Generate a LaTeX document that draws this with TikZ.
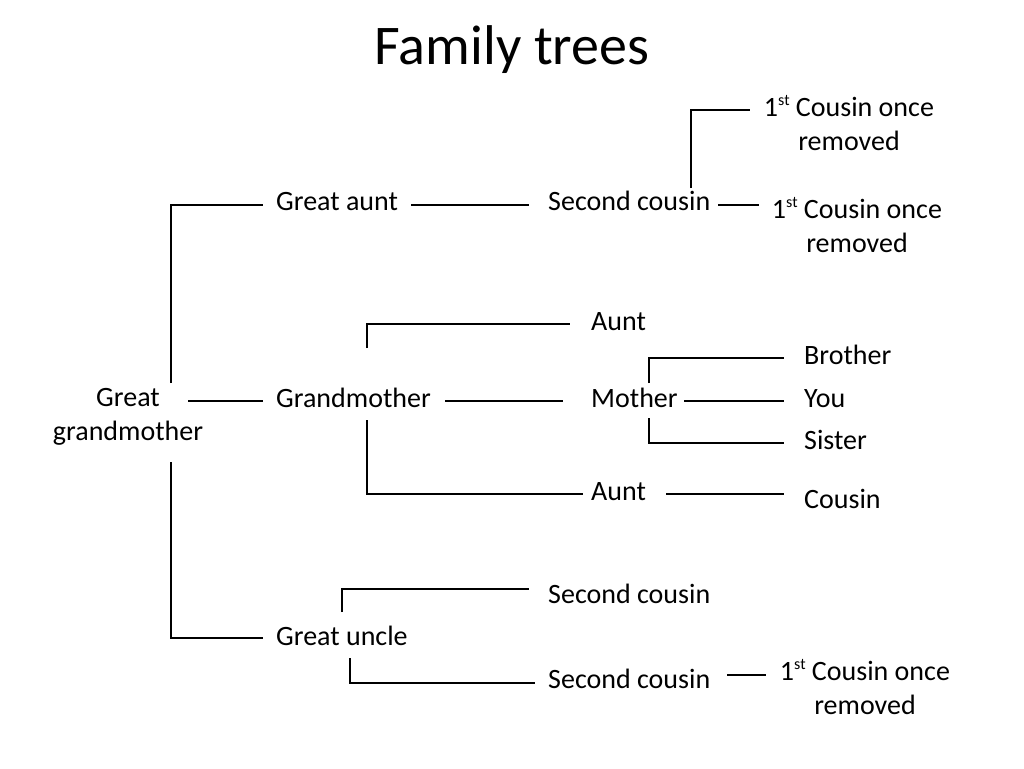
\documentclass[tikz,border=0pt]{standalone}
\usepackage{fontspec}
\setmainfont{Carlito}
\usetikzlibrary{positioning}

\newcommand\ordsup[1]{\raisebox{0.36em}{\fontsize{16}{16}\selectfont #1}}

\begin{document}
\begin{tikzpicture}[
    x=1pt, y=-1pt,
    person/.style={inner sep=0pt, anchor=base west, font=\fontsize{28}{34}\selectfont},
    twoline/.style={inner sep=0pt, anchor=base, align=center, font=\fontsize{28}{34}\selectfont},
    link/.style={line width=2.8pt}
]
\useasboundingbox (0,0) rectangle (1024,768);

\node[inner sep=0pt, anchor=base, font=\fontsize{56}{64}\selectfont] (title) at (512,64) {Family trees};

% people
\node[twoline] (ggm) at (128,440) {Great\\grandmother};
\node[person] (gaunt) at (276,210) {Great aunt};
\node[person] (gma) at (276,407) {Grandmother};
\node[person] (guncle) at (276,645) {Great uncle};
\node[person] (scA) at (548,210) {Second cousin};
\node[person] (auntA) at (591,330) {Aunt};
\node[person] (mother) at (591,407) {Mother};
\node[person] (auntB) at (591,500) {Aunt};
\node[person] (scB) at (548,603) {Second cousin};
\node[person] (scC) at (548,688) {Second cousin};
\node[person] (brother) at (804,364) {Brother};
\node[person] (you) at (804,407) {You};
\node[person] (sister) at (804,449) {Sister};
\node[person] (cousin) at (804,508) {Cousin};
\node[twoline] (fcA) at (849,150) {1\ordsup{st} Cousin once\\removed};
\node[twoline] (fcB) at (857,252) {1\ordsup{st} Cousin once\\removed};
\node[twoline] (fcC) at (865,714) {1\ordsup{st} Cousin once\\removed};

% line ends
\coordinate (ggmUp) at (171,383);
\coordinate (ggmDown) at (171,462);
\coordinate (gauntIn) at (263,205);
\coordinate (guncleIn) at (263,638);
\coordinate (ggmOut) at (188,401);
\coordinate (gmaIn) at (263,401);
\coordinate (gauntOut) at (411,205);
\coordinate (scAIn) at (529,205);
\coordinate (scAOut) at (718,205);
\coordinate (fcBIn) at (759,205);
\coordinate (scAUp) at (691,188);
\coordinate (fcAIn) at (750,110);
\coordinate (gmaOut) at (445,401);
\coordinate (motherIn) at (563,401);
\coordinate (gmaUp) at (367,348);
\coordinate (auntAIn) at (570,324);
\coordinate (gmaDown) at (367,420);
\coordinate (auntBIn) at (583,494);
\coordinate (motherOut) at (684,401);
\coordinate (youIn) at (784,401);
\coordinate (motherUp) at (649,383);
\coordinate (brotherIn) at (784,358);
\coordinate (motherDown) at (649,418);
\coordinate (sisterIn) at (784,443);
\coordinate (auntBOut) at (666,494);
\coordinate (cousinIn) at (784,494);
\coordinate (guncleUp) at (342,612);
\coordinate (scBIn) at (529,589);
\coordinate (guncleDown) at (350,658);
\coordinate (scCIn) at (535,683);
\coordinate (scCOut) at (727,675);
\coordinate (fcCIn) at (766,675);

% connectors
\draw[link] (ggmUp) |- (gauntIn);
\draw[link] (ggmDown) |- (guncleIn);
\draw[link] (ggmOut) -- (gmaIn);
\draw[link] (gauntOut) -- (scAIn);
\draw[link] (scAOut) -- (fcBIn);
\draw[link] (scAUp) |- (fcAIn);
\draw[link] (gmaOut) -- (motherIn);
\draw[link] (gmaUp) |- (auntAIn);
\draw[link] (gmaDown) |- (auntBIn);
\draw[link] (motherOut) -- (youIn);
\draw[link] (motherUp) |- (brotherIn);
\draw[link] (motherDown) |- (sisterIn);
\draw[link] (auntBOut) -- (cousinIn);
\draw[link] (guncleUp) |- (scBIn);
\draw[link] (guncleDown) |- (scCIn);
\draw[link] (scCOut) -- (fcCIn);
\end{tikzpicture}
\end{document}
